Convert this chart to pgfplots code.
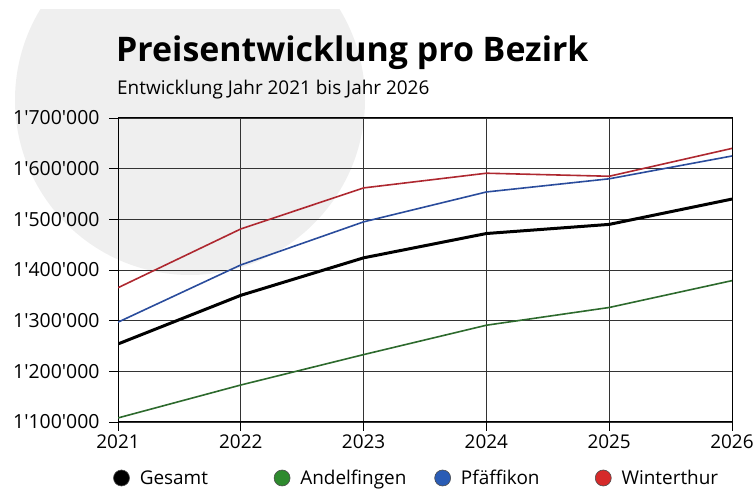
\documentclass[border=0pt]{standalone}
\usepackage{pgfplots}
\pgfplotsset{compat=1.18}
\usepackage{fontspec}
\setmainfont{Open Sans}

\definecolor{bggray}{HTML}{EFEFEF}
\definecolor{lnGreen}{HTML}{2D6A2D}
\definecolor{lnBlue}{HTML}{2A4C9C}
\definecolor{lnRed}{HTML}{AE2830}
\definecolor{dotGreen}{HTML}{2E8A2E}
\definecolor{dotBlue}{HTML}{2A5CB5}
\definecolor{dotRed}{HTML}{D62A2A}

\pgfplotsset{
  dot/.style={legend image code/.code={
    \draw[black!70, line width=0.6bp, fill=#1] (0bp,0bp) circle (8bp);}},
}

\begin{document}
\begin{tikzpicture}[x=1bp,y=1bp]
\useasboundingbox (0,0) rectangle (755,491);
\begin{scope}
  \clip (0,0) rectangle (755,481);
  \fill[bggray] (190,391) circle (175);
\end{scope}
\node[anchor=base west, inner sep=0pt, font=\fontsize{34}{40}\selectfont\bfseries]
  at (116,429) {Preisentwicklung pro Bezirk};
\node[anchor=base west, inner sep=0pt, font=\fontsize{19}{22}\selectfont]
  at (117,396) {Entwicklung Jahr 2021 bis Jahr 2026};

\begin{axis}[
  at={(118bp,69bp)}, anchor=south west,
  scale only axis, width=614bp, height=304bp,
  xmin=2021, xmax=2026, ymin=1100000, ymax=1700000,
  xtick={2021,...,2026},
  ytick={1100000,1200000,...,1700000},
  scaled y ticks=false,
  /pgf/number format/assume math mode=true,
  xticklabel style={font=\fontsize{19}{22}\selectfont, /pgf/number format/1000 sep={}},
  yticklabel style={font=\fontsize{19.5}{22}\selectfont, xshift=-6bp,
    /pgf/number format/fixed, /pgf/number format/precision=0,
    /pgf/number format/1000 sep={\textquotesingle}},
  tick align=outside, tick pos=left,
  major tick length=9bp,
  every tick/.style={black, line width=0.9bp},
  grid=major,
  major grid style={black!80, line width=0.8bp},
  axis line style={black, line width=1bp},
  legend columns=4,
  legend style={at={(axis description cs:0,0)}, anchor=west,
    xshift=-5bp, yshift=-56bp, draw=none, fill=none, inner sep=0pt,
    font=\fontsize{19}{22}\selectfont,
    /tikz/every odd column/.append style={column sep=8bp}},
]
\addplot[black, line width=3bp, dot=black] coordinates {
  (2021,1254000) (2022,1350000) (2023,1424000) (2024,1472000) (2025,1490000) (2026,1540000)};
\addlegendentry{\makebox[132bp][l]{Gesamt}}
\addplot[lnGreen, line width=1.6bp, dot=dotGreen] coordinates {
  (2021,1108000) (2022,1173000) (2023,1233000) (2024,1291000) (2025,1326000) (2026,1379000)};
\addlegendentry{\makebox[132bp][l]{Andelfingen}}
\addplot[lnBlue, line width=1.6bp, dot=dotBlue] coordinates {
  (2021,1297000) (2022,1410000) (2023,1495000) (2024,1554000) (2025,1580000) (2026,1625000)};
\addlegendentry{\makebox[132bp][l]{Pfäffikon}}
\addplot[lnRed, line width=1.6bp, dot=dotRed] coordinates {
  (2021,1365000) (2022,1481000) (2023,1562000) (2024,1591000) (2025,1585000) (2026,1640000)};
\addlegendentry{Winterthur}
\end{axis}
\end{tikzpicture}
\end{document}
